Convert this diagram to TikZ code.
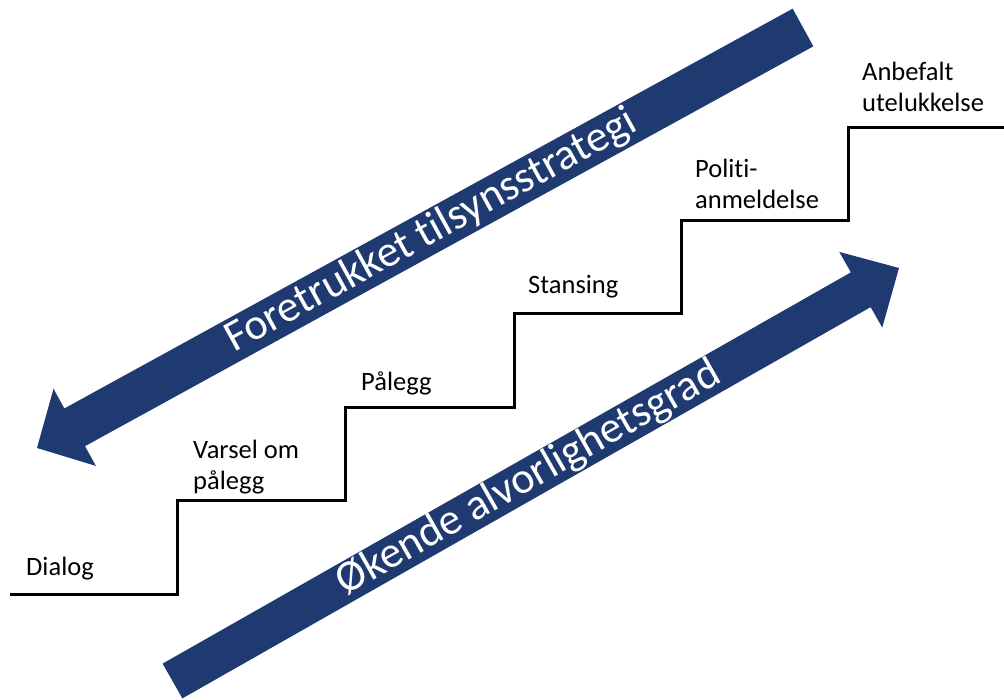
\documentclass[tikz,border=0pt]{standalone}
\usepackage{fontspec}
\setmainfont{Carlito}[RawFeature={-liga;-clig;-calt;-dlig}]
\usetikzlibrary{calc}
\definecolor{navy}{RGB}{31,58,112}
\begin{document}
\begin{tikzpicture}[x=1pt,y=-1pt,
  stair/.style={line width=3pt, black, line join=miter},
  lbl/.style={anchor=base west, inner sep=0pt, text=black, font=\fontsize{26.5}{31}\selectfont},
  bigarrow/.style={fill=navy, draw=none},
  arrowtext/.style={text=white, inner sep=0pt, font=\fontsize{44}{50}\selectfont}]
\useasboundingbox (0,0) rectangle (1004,699);

% staircase
\coordinate (s0) at (10,594);
\coordinate (s1) at (177,594);
\coordinate (s2) at (177,500);
\coordinate (s3) at (345,500);
\coordinate (s4) at (345,407);
\coordinate (s5) at (514,407);
\coordinate (s6) at (514,313);
\coordinate (s7) at (681,313);
\coordinate (s8) at (681,220);
\coordinate (s9) at (848,220);
\coordinate (s10) at (848,127);
\coordinate (s11) at (1004,127);
\draw[stair] (s0) -- (s1) -- (s2) -- (s3) -- (s4) -- (s5) -- (s6) -- (s7) -- (s8) -- (s9) -- (s10) -- (s11);

% step labels
\node[lbl] (dialog) at (26,575) {Dialog};
\node[lbl] (varsel) at (193,458) {\vtop{\hbox{Varsel om}\hbox{pålegg}}};
\node[lbl] (palegg) at (361,390) {Pålegg};
\node[lbl] (stansing) at (528,293) {Stansing};
\node[lbl] (politi) at (695,177) {\vtop{\hbox{Politi-}\hbox{anmeldelse}}};
\node[lbl] (anbefalt) at (862,80) {\vtop{\hbox{Anbefalt}\hbox{utelukkelse}}};

% upper arrow: tail A1 -> tip B1
\coordinate (A1) at (803,27.5);
\coordinate (B1) at (37,448);
\coordinate (H1) at ($(B1)!43pt!(A1)$);
\fill[bigarrow] ($(A1)!21.5pt!90:(B1)$) -- ($(H1)!21.5pt!-90:(A1)$) -- ($(H1)!44pt!-90:(A1)$) -- (B1)
  -- ($(H1)!44pt!90:(A1)$) -- ($(H1)!21.5pt!90:(A1)$) -- ($(A1)!21.5pt!-90:(B1)$) -- cycle;
\node[arrowtext, rotate=28.8] (foretrukket) at ($(B1)!450pt!(A1)$) {Foretrukket tilsynsstrategi};

% lower arrow: tail A2 -> tip B2
\coordinate (A2) at (172.5,681);
\coordinate (B2) at (899,268);
\coordinate (H2) at ($(B2)!44pt!(A2)$);
\fill[bigarrow] ($(A2)!20pt!90:(B2)$) -- ($(H2)!20pt!-90:(A2)$) -- ($(H2)!43.5pt!-90:(A2)$) -- (B2)
  -- ($(H2)!43.5pt!90:(A2)$) -- ($(H2)!20pt!90:(A2)$) -- ($(A2)!20pt!-90:(B2)$) -- cycle;
\node[arrowtext, rotate=29.6] (okende) at ($(A2)!410pt!(B2)$) {Økende alvorlighetsgrad};
\end{tikzpicture}
\end{document}
